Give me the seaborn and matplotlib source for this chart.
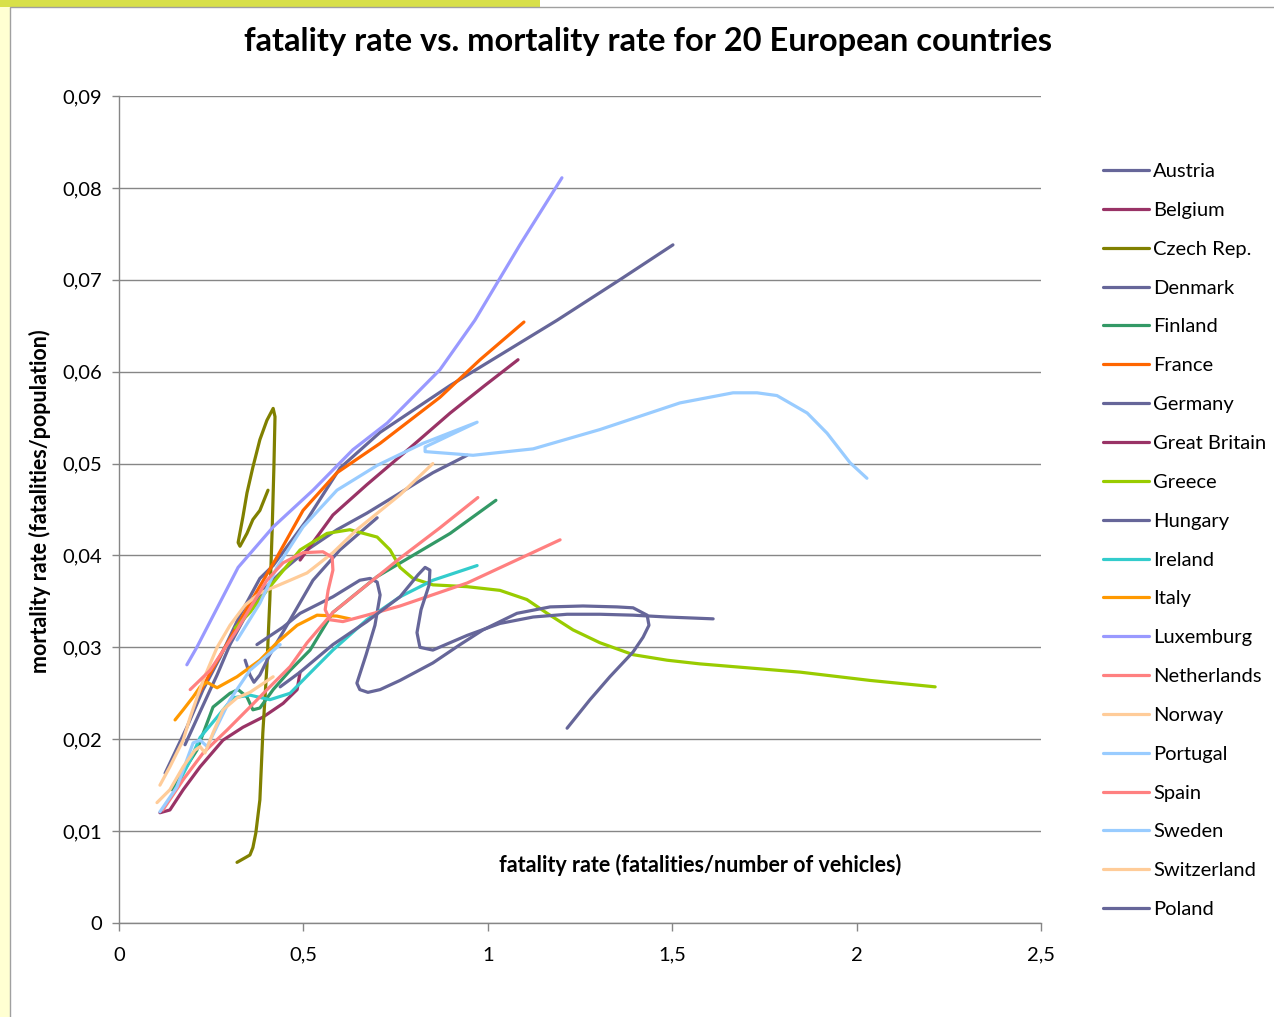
import matplotlib
matplotlib.use("Agg")
import matplotlib.pyplot as plt
import matplotlib.patches as mpatches
import numpy as np
import pandas as pd
import seaborn as sns

# --- data (fatality rate, mortality rate) ---
austria_x = [0.125, 0.184, 0.228, 0.274, 0.328, 0.382, 0.418, 0.510, 0.599, 0.708, 0.898, 1.188, 1.358, 1.502]
austria_y = [0.0163, 0.0213, 0.0254, 0.0289, 0.0335, 0.0375, 0.0389, 0.0439, 0.0495, 0.0534, 0.0585, 0.0656, 0.0700, 0.0738]

belgium_x = [0.111, 0.138, 0.174, 0.220, 0.282, 0.336, 0.390, 0.445, 0.483, 0.491]
belgium_y = [0.0120, 0.0123, 0.0145, 0.0170, 0.0199, 0.0213, 0.0224, 0.0239, 0.0254, 0.0273]

czech_x = [0.320, 0.342, 0.355, 0.363, 0.371, 0.382, 0.390, 0.401, 0.409, 0.415, 0.420, 0.423, 0.418,
           0.401, 0.382, 0.363, 0.347, 0.336, 0.323, 0.328, 0.347, 0.363, 0.382, 0.404]
czech_y = [0.0066, 0.0071, 0.0074, 0.0082, 0.0098, 0.0134, 0.0207, 0.0279, 0.0352, 0.0424, 0.0496, 0.0551, 0.0560,
           0.0547, 0.0526, 0.0496, 0.0468, 0.0442, 0.0414, 0.0410, 0.0424, 0.0439, 0.0449, 0.0471]

denmark_x = [0.179, 0.220, 0.266, 0.301, 0.347, 0.390, 0.445, 0.510, 0.591, 0.672, 0.762, 0.851, 0.944]
denmark_y = [0.0194, 0.0230, 0.0270, 0.0303, 0.0337, 0.0362, 0.0384, 0.0406, 0.0428, 0.0446, 0.0468, 0.0490, 0.0509]

finland_x = [0.144, 0.165, 0.211, 0.255, 0.301, 0.323, 0.347, 0.363, 0.382, 0.418, 0.464, 0.518, 0.580, 0.700, 0.898, 1.022]
finland_y = [0.0145, 0.0159, 0.0188, 0.0235, 0.0250, 0.0254, 0.0246, 0.0232, 0.0234, 0.0254, 0.0275, 0.0297, 0.0338, 0.0377, 0.0424, 0.0460]

france_x = [0.214, 0.260, 0.306, 0.355, 0.428, 0.499, 0.591, 0.708, 0.789, 0.870, 0.979, 1.098]
france_y = [0.0248, 0.0281, 0.0313, 0.0348, 0.0398, 0.0449, 0.0490, 0.0522, 0.0547, 0.0572, 0.0613, 0.0654]

germany_x = [0.342, 0.355, 0.366, 0.382, 0.409, 0.464, 0.526, 0.599, 0.700]
germany_y = [0.0286, 0.0270, 0.0262, 0.0270, 0.0292, 0.0330, 0.0373, 0.0406, 0.0441]

britain_x = [0.491, 0.580, 0.672, 0.789, 0.898, 0.992, 1.082]
britain_y = [0.0395, 0.0444, 0.0477, 0.0517, 0.0555, 0.0585, 0.0613]

greece_x = [0.315, 0.355, 0.401, 0.491, 0.564, 0.626, 0.700, 0.735, 0.762, 0.797, 0.851, 0.944, 1.033, 1.106,
            1.161, 1.231, 1.304, 1.394, 1.486, 1.575, 1.847, 2.036, 2.213]
greece_y = [0.0321, 0.0338, 0.0362, 0.0406, 0.0424, 0.0428, 0.0420, 0.0406, 0.0387, 0.0375, 0.0368, 0.0366, 0.0362, 0.0352,
            0.0337, 0.0319, 0.0305, 0.0292, 0.0286, 0.0282, 0.0273, 0.0264, 0.0257]

hungary_x = [0.374, 0.445, 0.491, 0.580, 0.653, 0.681, 0.700, 0.708, 0.694, 0.670, 0.645, 0.653, 0.675, 0.708, 0.762,
             0.851, 0.925, 0.987, 1.079, 1.169, 1.258, 1.350, 1.394, 1.432, 1.437, 1.421, 1.394, 1.331, 1.277, 1.215]
hungary_y = [0.0303, 0.0322, 0.0337, 0.0355, 0.0373, 0.0375, 0.0371, 0.0357, 0.0324, 0.0292, 0.0261, 0.0254, 0.0251, 0.0254, 0.0264,
             0.0283, 0.0303, 0.0319, 0.0337, 0.0344, 0.0345, 0.0344, 0.0343, 0.0335, 0.0324, 0.0311, 0.0295, 0.0268, 0.0243, 0.0212]

ireland_x = [0.152, 0.193, 0.220, 0.266, 0.309, 0.355, 0.409, 0.464, 0.518, 0.580, 0.672, 0.762, 0.851, 0.971]
ireland_y = [0.0145, 0.0177, 0.0202, 0.0224, 0.0245, 0.0248, 0.0243, 0.0250, 0.0272, 0.0297, 0.0330, 0.0355, 0.0373, 0.0389]

italy_x = [0.152, 0.174, 0.201, 0.220, 0.239, 0.252, 0.266, 0.320, 0.382, 0.428, 0.483, 0.537, 0.591, 0.626]
italy_y = [0.0221, 0.0232, 0.0246, 0.0257, 0.0262, 0.0259, 0.0256, 0.0268, 0.0286, 0.0305, 0.0324, 0.0335, 0.0334, 0.0331]

luxemburg_x = [0.184, 0.211, 0.323, 0.418, 0.526, 0.634, 0.727, 0.870, 0.965, 1.087, 1.201]
luxemburg_y = [0.0281, 0.0300, 0.0387, 0.0431, 0.0471, 0.0515, 0.0544, 0.0602, 0.0656, 0.0738, 0.0811]

netherlands_x = [0.119, 0.174, 0.228, 0.293, 0.355, 0.409, 0.464, 0.510, 0.580, 0.762, 0.870, 0.973]
netherlands_y = [0.0123, 0.0156, 0.0185, 0.0210, 0.0235, 0.0257, 0.0279, 0.0305, 0.0338, 0.0397, 0.0430, 0.0463]

norway_x = [0.111, 0.138, 0.174, 0.193, 0.228, 0.266, 0.301, 0.342, 0.382, 0.423, 0.464, 0.510, 0.580, 0.645, 0.762, 0.851]
norway_y = [0.0150, 0.0170, 0.0199, 0.0224, 0.0264, 0.0300, 0.0324, 0.0346, 0.0359, 0.0366, 0.0373, 0.0381, 0.0403, 0.0428, 0.0466, 0.0500]

portugal_x = [0.320, 0.382, 0.428, 0.499, 0.591, 0.700, 0.824, 0.971, 0.830, 0.830, 0.960, 1.123, 1.304, 1.521,
              1.665, 1.730, 1.784, 1.866, 1.920, 1.982, 2.028]
portugal_y = [0.0308, 0.0348, 0.0387, 0.0431, 0.0471, 0.0498, 0.0522, 0.0545, 0.0518, 0.0513, 0.0509, 0.0516, 0.0537, 0.0566,
              0.0577, 0.0577, 0.0574, 0.0555, 0.0533, 0.0501, 0.0484]

spain_x = [0.193, 0.247, 0.320, 0.374, 0.401, 0.445, 0.499, 0.553, 0.578, 0.580, 0.567, 0.559, 0.572, 0.607,
           0.672, 0.762, 0.944, 1.196]
spain_y = [0.0254, 0.0275, 0.0319, 0.0355, 0.0373, 0.0392, 0.0403, 0.0404, 0.0398, 0.0384, 0.0362, 0.0341, 0.0330, 0.0328,
           0.0335, 0.0345, 0.0370, 0.0417]

sweden_x = [0.111, 0.157, 0.201, 0.220, 0.239, 0.301, 0.355, 0.437]
sweden_y = [0.0121, 0.0148, 0.0196, 0.0199, 0.0192, 0.0243, 0.0275, 0.0303]

switzerland_x = [0.103, 0.138, 0.174, 0.206, 0.220, 0.233, 0.255, 0.282, 0.320, 0.355, 0.418]
switzerland_y = [0.0131, 0.0145, 0.0170, 0.0188, 0.0192, 0.0185, 0.0207, 0.0232, 0.0245, 0.0251, 0.0268]

poland_x = [0.437, 0.491, 0.580, 0.672, 0.762, 0.811, 0.830, 0.843, 0.841, 0.819, 0.808, 0.816, 0.851, 0.944,
            1.033, 1.123, 1.215, 1.304, 1.394, 1.486, 1.611]
poland_y = [0.0257, 0.0273, 0.0303, 0.0328, 0.0355, 0.0379, 0.0387, 0.0384, 0.0368, 0.0341, 0.0316, 0.0300, 0.0297, 0.0313,
            0.0326, 0.0333, 0.0336, 0.0336, 0.0335, 0.0333, 0.0331]

countries = ["Austria", "Belgium", "Czech Rep.", "Denmark", "Finland", "France", "Germany", "Great Britain",
             "Greece", "Hungary", "Ireland", "Italy", "Luxemburg", "Netherlands", "Norway", "Portugal",
             "Spain", "Sweden", "Switzerland", "Poland"]
series_x = [austria_x, belgium_x, czech_x, denmark_x, finland_x, france_x, germany_x, britain_x, greece_x,
            hungary_x, ireland_x, italy_x, luxemburg_x, netherlands_x, norway_x, portugal_x, spain_x,
            sweden_x, switzerland_x, poland_x]
series_y = [austria_y, belgium_y, czech_y, denmark_y, finland_y, france_y, germany_y, britain_y, greece_y,
            hungary_y, ireland_y, italy_y, luxemburg_y, netherlands_y, norway_y, portugal_y, spain_y,
            sweden_y, switzerland_y, poland_y]
colors = ["#666699", "#993366", "#808000", "#666699", "#339966", "#FF6600", "#666699", "#993366",
          "#99CC00", "#666699", "#33CCCC", "#FF9900", "#9999FF", "#FF8080", "#FFCC99", "#99CCFF",
          "#FF8080", "#99CCFF", "#FFCC99", "#666699"]

rows = []
for name, xs, ys in zip(countries, series_x, series_y):
    for i, (xv, yv) in enumerate(zip(xs, ys)):
        rows.append({"country": name, "step": i, "fatality": xv, "mortality": yv})
df = pd.DataFrame(rows)

# --- style ---
sns.set_style("white")
plt.rcParams["font.family"] = ["Lato", "DejaVu Sans"]
plt.rcParams["text.color"] = "black"
plt.rcParams["axes.labelcolor"] = "black"

fig = plt.figure(figsize=(12.74, 10.17), dpi=100)
fig.patch.set_facecolor("white")

# frame of the slide around the chart
fig.patches.append(mpatches.Rectangle((0, 0), 10 / 1274, 1, transform=fig.transFigure,
                                      facecolor="#FFFFD2", edgecolor="none", zorder=-3))
fig.patches.append(mpatches.Rectangle((0, 1 - 7 / 1017), 540 / 1274, 7 / 1017, transform=fig.transFigure,
                                      facecolor="#D8E04A", edgecolor="none", zorder=-3))
fig.patches.append(mpatches.Rectangle((10 / 1274, -0.01), 1.0, 1 - 7 / 1017 + 0.01, transform=fig.transFigure,
                                      facecolor="white", edgecolor="#A0A0A0", linewidth=1.0, zorder=-2))

ax = fig.add_axes([119 / 1274, 1 - 923 / 1017, 922 / 1274, 827 / 1017])
ax.set_facecolor("none")
ax.set_zorder(2)

sns.lineplot(data=df, x="fatality", y="mortality", hue="country", hue_order=countries,
             palette=dict(zip(countries, colors)), sort=False, estimator=None,
             linewidth=2.3, ax=ax, legend=True)
for line in ax.get_lines():
    line.set_solid_capstyle("round")
    line.set_solid_joinstyle("round")

ax.set_xlim(0, 2.5)
ax.set_ylim(0, 0.09)
xticks = [0, 0.5, 1, 1.5, 2, 2.5]
xtick_labels = ["0", "0,5", "1", "1,5", "2", "2,5"]
yticks = [0, 0.01, 0.02, 0.03, 0.04, 0.05, 0.06, 0.07, 0.08, 0.09]
ytick_labels = ["0", "0,01", "0,02", "0,03", "0,04", "0,05", "0,06", "0,07", "0,08", "0,09"]
ax.set_xticks(xticks)
ax.set_xticklabels(xtick_labels)
ax.set_yticks(yticks)
ax.set_yticklabels(ytick_labels)
ax.tick_params(axis="both", labelsize=14.5, labelcolor="black")
ax.tick_params(axis="y", length=5, width=1, color="#868686", pad=7, left=True)
ax.tick_params(axis="x", length=6, width=1, color="#868686", pad=11, bottom=True)

ax.yaxis.grid(True, color="#868686", linewidth=1)
ax.xaxis.grid(False)
ax.set_axisbelow(True)
for side in ["top", "right"]:
    ax.spines[side].set_visible(False)
for side in ["left", "bottom"]:
    ax.spines[side].set_color("#868686")
    ax.spines[side].set_linewidth(1)

ax.set_xlabel("fatality rate (fatalities/number of vehicles)", fontsize=15.5, fontweight="bold")
ax.xaxis.set_label_coords(0.63, 0.083)
ax.set_ylabel("mortality rate (fatalities/population)", fontsize=15.5, fontweight="bold")
ax.yaxis.set_label_coords(-0.074, 0.51)

fig.suptitle("fatality rate vs. mortality rate for 20 European countries",
             x=648 / 1274, y=1 - 41 / 1017, va="center", fontsize=23.5, fontweight="bold")

handles, labels = ax.get_legend_handles_labels()
ax.legend(handles, labels, loc="upper left", bbox_to_anchor=(1103 / 1274, 1 - 163 / 1017),
          bbox_transform=fig.transFigure, frameon=False, fontsize=14.5, handlelength=2.3,
          handletextpad=0.2, labelspacing=1.08, borderpad=0, borderaxespad=0)

fig.savefig("out.png", dpi=100)
